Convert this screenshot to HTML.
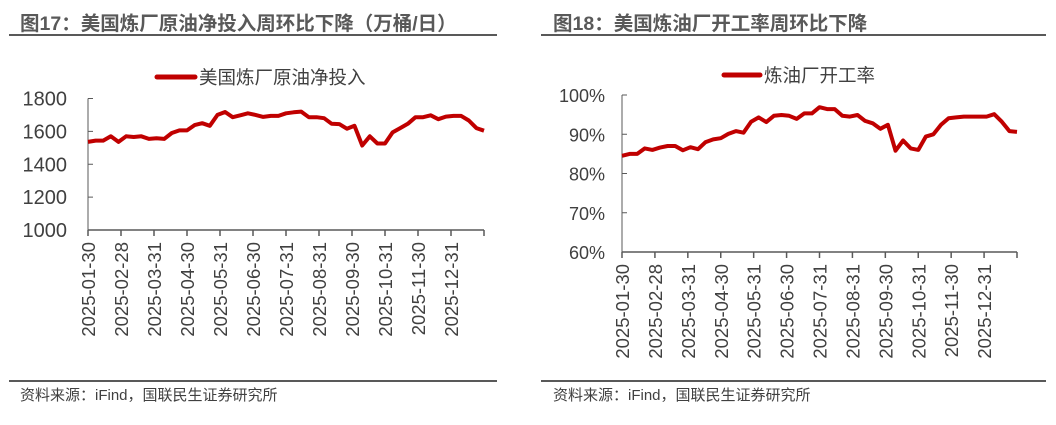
<!DOCTYPE html>
<html><head><meta charset="utf-8">
<style>
body{margin:0;background:#fff;width:1056px;height:420px;overflow:hidden;font-family:"Liberation Sans","Noto Sans CJK SC",sans-serif;}
svg text{font-family:"Liberation Sans","Noto Sans CJK SC",sans-serif;}
</style></head>
<body>
<svg id="s" width="1056" height="420">
<text x="20" y="30" font-size="19.5" font-weight="bold" fill="#595959">图17：美国炼厂原油净投入周环比下降（万桶/日）</text>
<line x1="9" y1="35" x2="497" y2="35" stroke="#595959" stroke-width="2"/>
<text x="553" y="30" font-size="19.5" font-weight="bold" fill="#595959">图18：美国炼油厂开工率周环比下降</text>
<line x1="541" y1="35" x2="1046" y2="35" stroke="#595959" stroke-width="2"/>
<line x1="9" y1="381" x2="497" y2="381" stroke="#595959" stroke-width="2"/>
<line x1="541" y1="381" x2="1046" y2="381" stroke="#595959" stroke-width="2"/>
<text x="20" y="400" font-size="15" fill="#404040">资料来源：iFind，国联民生证券研究所</text>
<text x="553" y="400" font-size="15" fill="#404040">资料来源：iFind，国联民生证券研究所</text>
<line x1="157" y1="77" x2="195" y2="77" stroke="#c00000" stroke-width="5" stroke-linecap="round"/>
<text x="199" y="84" font-size="18.5" fill="#404040">美国炼厂原油净投入</text>
<line x1="724" y1="75" x2="760" y2="75" stroke="#c00000" stroke-width="5" stroke-linecap="round"/>
<text x="764" y="82" font-size="18.5" fill="#404040">炼油厂开工率</text>
</svg>
<script>
const xLabels=["2025-01-30","2025-02-28","2025-03-31","2025-04-30","2025-05-31","2025-06-30","2025-07-31","2025-08-31","2025-09-30","2025-10-31","2025-11-30","2025-12-31"];
const crudeInput=[1536,1544,1544,1570,1536,1570,1566,1570,1554,1558,1554,1590,1606,1606,1638,1650,1634,1700,1718,1686,1698,1710,1700,1688,1694,1694,1710,1716,1720,1686,1686,1680,1646,1644,1616,1634,1514,1570,1526,1526,1594,1620,1646,1686,1686,1698,1674,1690,1694,1694,1666,1620,1604];
const utilization=[84.5,85.0,85.0,86.4,86.0,86.6,87.0,87.0,85.9,86.7,86.2,88.0,88.7,89.0,90.1,90.8,90.4,93.2,94.3,93.1,94.7,94.9,94.7,93.9,95.3,95.3,96.9,96.4,96.4,94.7,94.5,94.9,93.4,92.8,91.4,92.4,85.8,88.4,86.4,86.0,89.4,90.0,92.4,94.1,94.3,94.5,94.5,94.5,94.5,95.1,93.2,90.8,90.6];
const ticks1=[1000,1200,1400,1600,1800];
const ticks2=[60,70,80,90,100];
const NS="http://www.w3.org/2000/svg";
const svg=document.getElementById('s');
function mk(t,a){const e=document.createElementNS(NS,t);for(const k in a)e.setAttribute(k,a[k]);svg.appendChild(e);return e;}
function draw(cfg){
  const {x0,x1,yTop,yBot,min,max,ticks,vals,fmt,p,lx,fs}=cfg;
  const n=vals.length;
  const xs=i=>x0+(x1-x0)*i/(n-1);
  const ys=v=>yBot-(v-min)/(max-min)*(yBot-yTop);
  let e=mk('line',{x1:x0,y1:yTop,x2:x0,y2:yBot,stroke:'#595959','stroke-width':1});
  
  
  e=mk('line',{x1:x0,y1:yBot,x2:x1,y2:yBot,stroke:'#595959','stroke-width':1.5});
  
  
  ticks.forEach(t=>{
    const y=ys(t);
    let l=mk('line',{x1:x0,y1:y,x2:x0+5,y2:y,stroke:'#595959'});
    
    
    let tx=mk('text',{x:lx,y:y+7,'font-size':fs,fill:'#404040','text-anchor':'end'});
    tx.textContent=fmt(t);
    
    
  });
  const nt=xLabels.length+1;
  for(let k=0;k<=nt-1;k++){
    const x=x0+(x1-x0)*k/(nt-1);
    let l=mk('line',{x1:x,y1:yBot,x2:x,y2:yBot+6,stroke:'#595959','stroke-width':1.5});
    
    
    if(k<xLabels.length){
      let tx=mk('text',{x:0,y:0,'font-size':18.5,fill:'#404040','text-anchor':'end',transform:`translate(${x+7},${yBot+12}) rotate(-90)`});
      tx.textContent=xLabels[k];
      
      
    }
  }
  const d=vals.map((v,i)=>(i?'L':'M')+xs(i).toFixed(1)+','+ys(v).toFixed(1)).join('');
  let path=mk('path',{d:d,fill:'none',stroke:'#c00000','stroke-width':4,'stroke-linejoin':'round'});
  
  
}
draw({x0:88,x1:484,yTop:98.5,yBot:230,min:1000,max:1800,ticks:ticks1,vals:crudeInput,fmt:t=>String(t),p:'chart1',lx:67,fs:20});
draw({x0:622,x1:1017,yTop:95,yBot:252,min:60,max:100,ticks:ticks2,vals:utilization,fmt:t=>t+'%',p:'chart2',lx:605,fs:18});
</script>
</body></html>
